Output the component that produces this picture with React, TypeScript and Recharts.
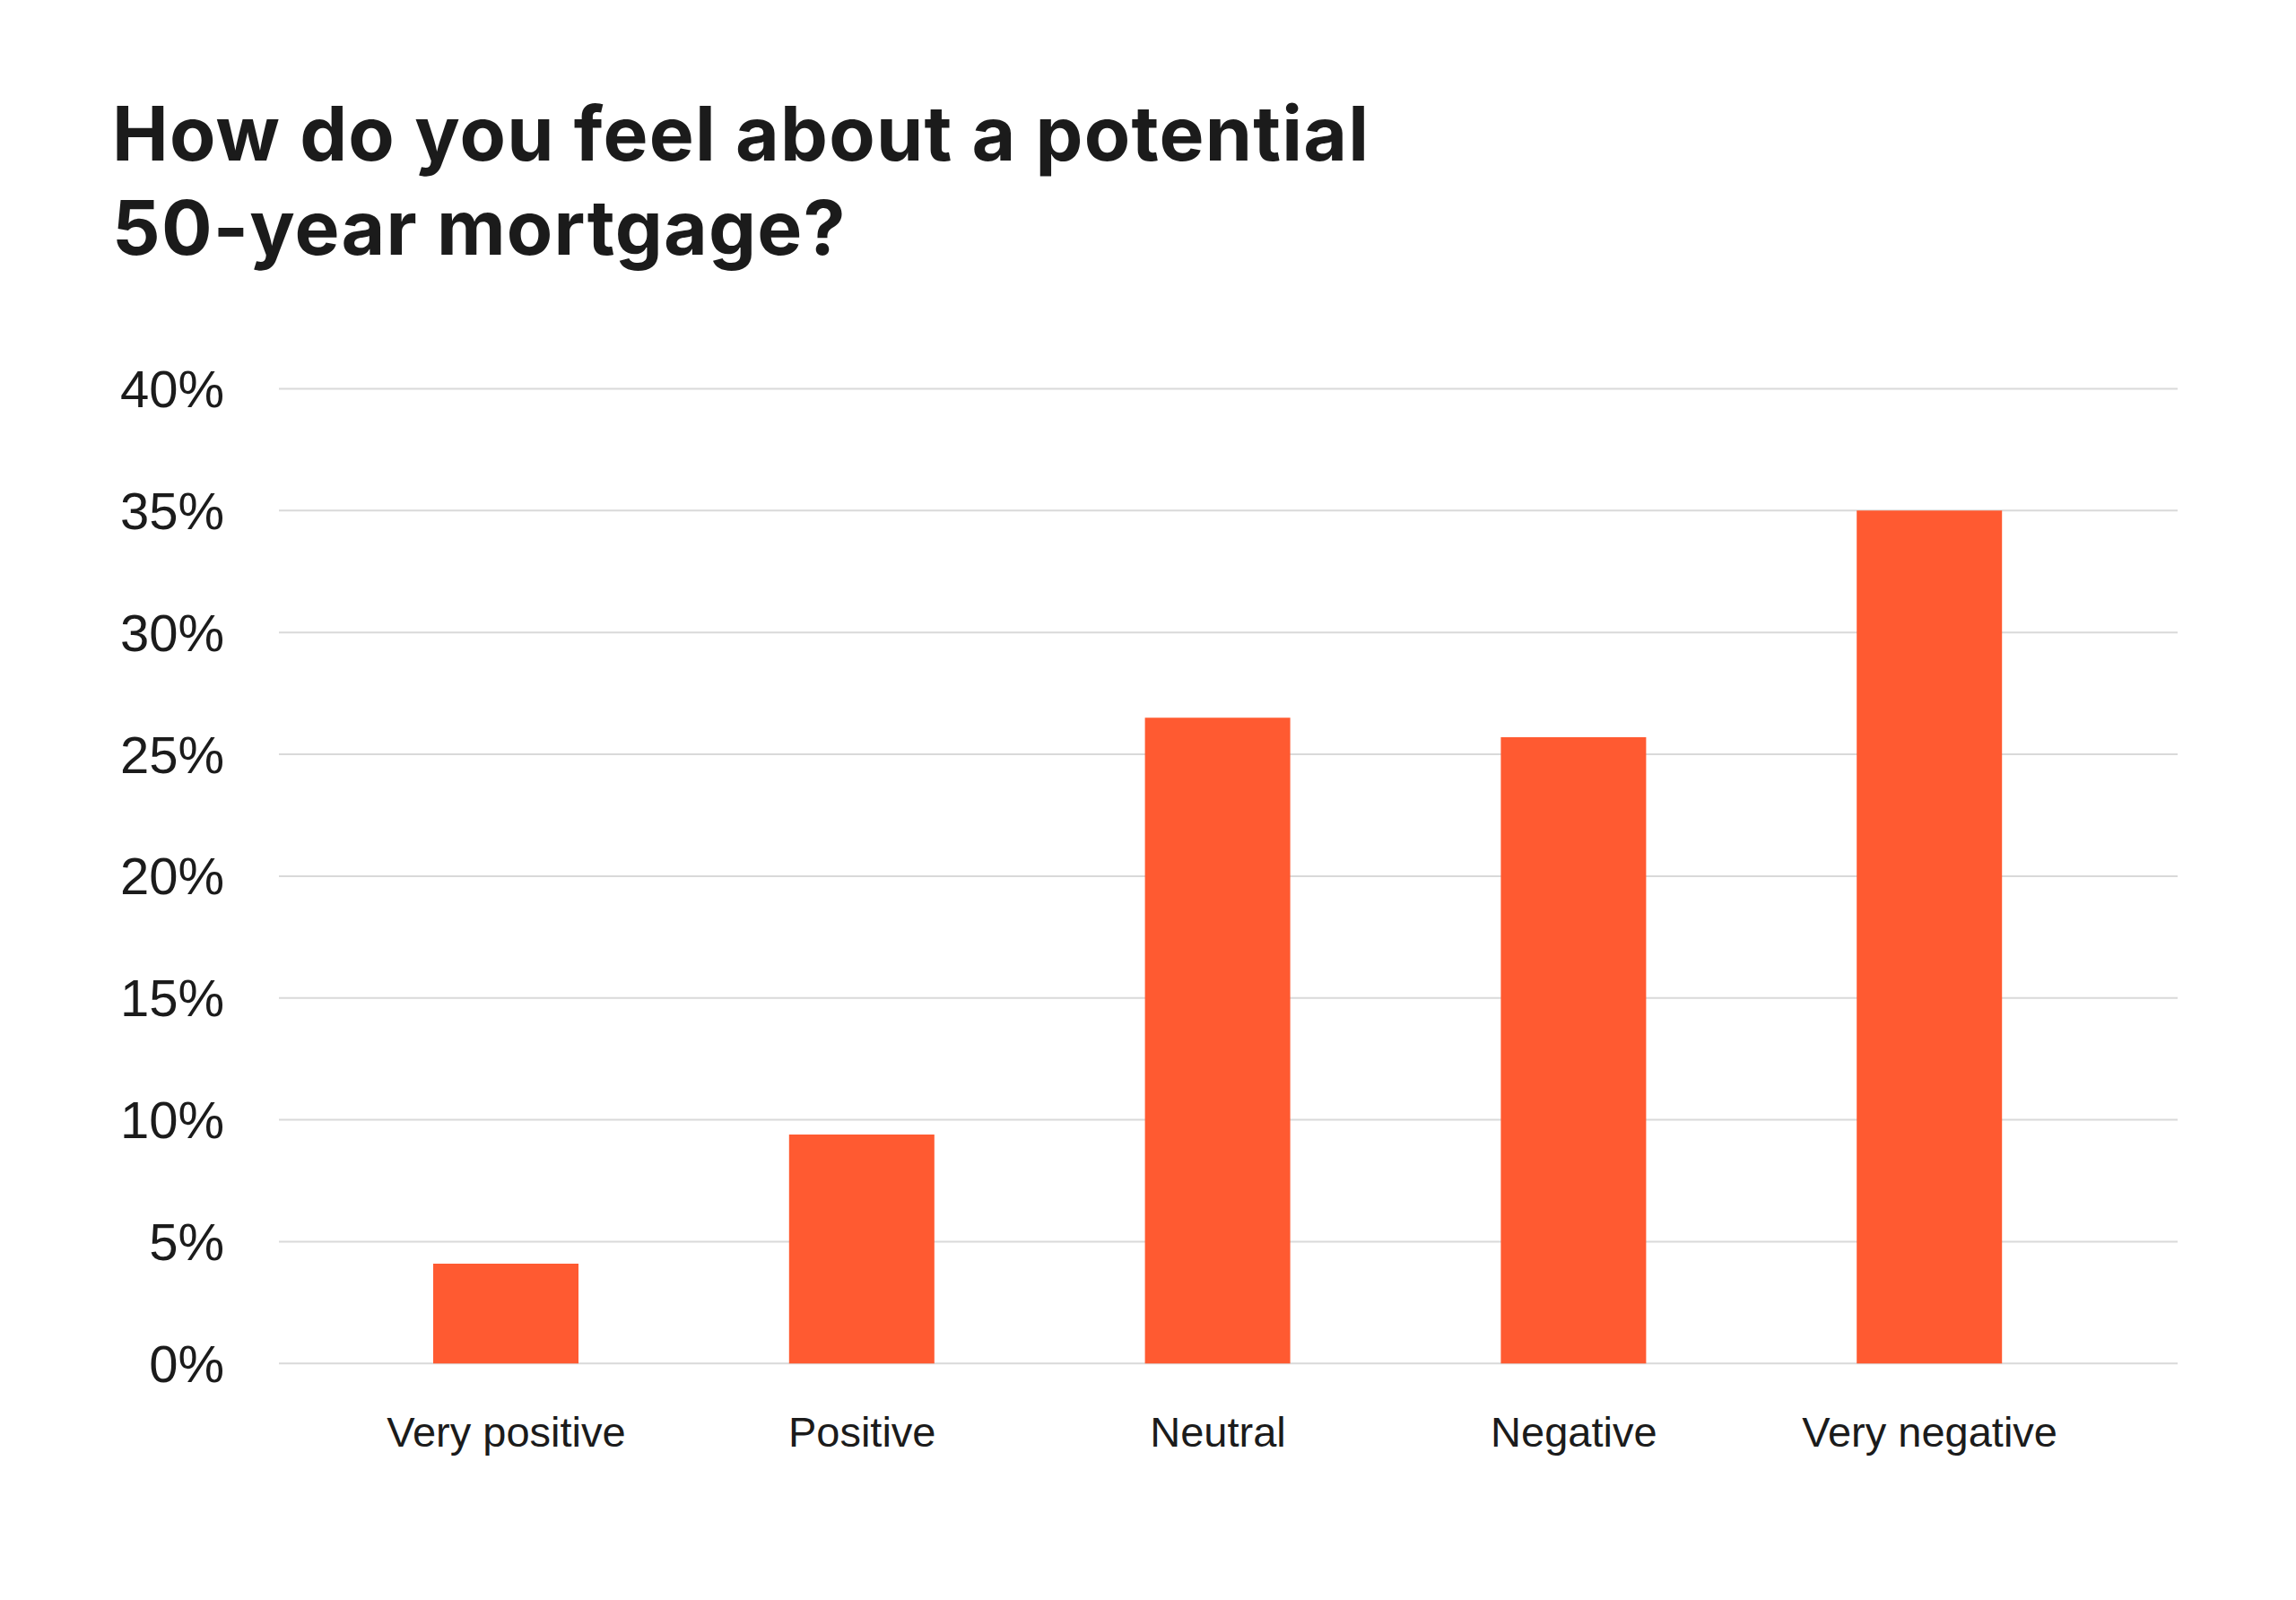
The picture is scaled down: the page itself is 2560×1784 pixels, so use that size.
import React from 'react';
import { BarChart, Bar, XAxis, YAxis, CartesianGrid } from 'recharts';

const categories = ['Very positive', 'Positive', 'Neutral', 'Negative', 'Very negative'];
const shares = [4.1, 9.4, 26.5, 25.7, 35.0];
const yTicks = [0, 5, 10, 15, 20, 25, 30, 35, 40];

const data = categories.map((name, i) => ({ name, value: shares[i] }));

const BAR_COLOR = '#ff5a31';
const TEXT_COLOR = '#1b1b1b';
const GRID_COLOR = '#d9d9d9';

export default function App() {
  return (
    <div style={{ position: 'relative', width: 2560, height: 1784, background: '#ffffff', overflow: 'hidden' }}>
      <style>{'body{margin:0;}'}</style>
      <div
        style={{
          position: 'absolute',
          left: 125,
          top: 96,
          fontFamily: 'Inter, "Liberation Sans", sans-serif',
          fontWeight: 700,
          fontSize: 84,
          lineHeight: '105px',
          color: TEXT_COLOR,
          letterSpacing: '1.2px',
        }}
      >
        How do you feel about a potential
        <br />
        50-year mortgage?
      </div>
      <div style={{ position: 'absolute', left: 0, top: 0 }}>
        <BarChart
          width={2560}
          height={1784}
          data={data}
          margin={{ top: 433.5, right: 132, bottom: 163.7, left: 111 }}
        >
          <CartesianGrid vertical={false} stroke={GRID_COLOR} strokeWidth={2} />
          <XAxis
            dataKey="name"
            axisLine={false}
            tickLine={false}
            tickSize={0}
            tickMargin={59}
            height={100}
            padding={{ left: 55, right: 78 }}
            interval={0}
            tick={{ fill: TEXT_COLOR, fontSize: 47, fontFamily: '"Liberation Sans", Arial, sans-serif' }}
          />
          <YAxis
            domain={[0, 40]}
            ticks={yTicks}
            width={200}
            axisLine={false}
            tickLine={false}
            tickSize={0}
            tickMargin={61}
            tickFormatter={(v: number) => `${v}%`}
            tick={{ fill: TEXT_COLOR, fontSize: 58, fontFamily: '"Liberation Sans", Arial, sans-serif' }}
          />
          <Bar dataKey="value" fill={BAR_COLOR} barSize={162} isAnimationActive={false} />
        </BarChart>
      </div>
    </div>
  );
}
